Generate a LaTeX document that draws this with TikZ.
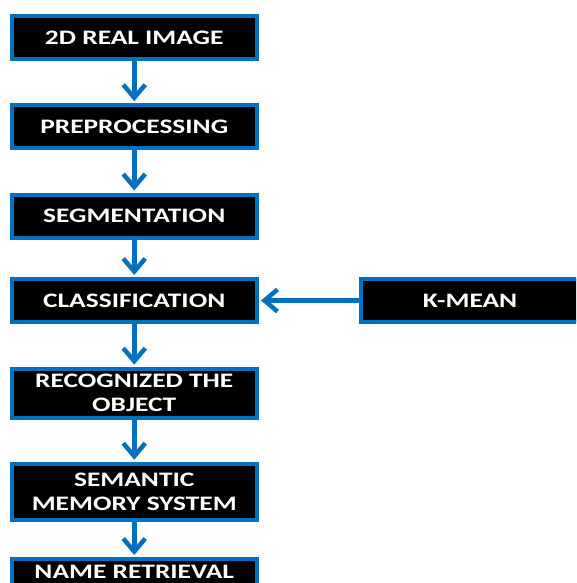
\documentclass[tikz,border=0pt]{standalone}
\usepackage{fontspec}
\newfontfamily\boxfont{Carlito}[FakeStretch=1.33]
\usetikzlibrary{arrows.meta}
\definecolor{flowblue}{HTML}{0070C0}
\begin{document}
\begin{tikzpicture}[x=1pt,y=-1pt,
  box/.style={draw=flowblue, line width=4pt, fill=black, text=white,
    font={\boxfont\bfseries\fontsize{20.6}{24}\selectfont},
    minimum width=245.5pt, minimum height=43pt, inner sep=0pt, align=center},
  flow/.style={draw=flowblue, line width=4.5pt,
    -{Straight Barb[length=13pt,width=22pt]}, shorten >=2pt}]
\useasboundingbox (0,0) rectangle (576,583);
\clip (0,0) rectangle (576,583);
\node[box] (b1) at (134.25,37.5) {2D REAL IMAGE};
\node[box] (b2) at (134.25,126.7) {PREPROCESSING};
\node[box] (b3) at (134.25,216) {SEGMENTATION};
\node[box] (b4) at (134.25,300.5) {CLASSIFICATION};
\node[box, minimum height=49.3pt] (b5) at (134.25,393.3) {RECOGNIZED THE\\OBJECT};
\node[box, minimum height=56pt] (b6) at (134.25,491.7) {SEMANTIC\\MEMORY SYSTEM};
\node[box, anchor=north, minimum height=0pt, inner ysep=5pt, text height=14.3pt, text depth=20pt] (b7) at (134.25,557) {NAME RETRIEVAL};
\node[box, minimum width=218pt] (km) at (470,300.5) {K-MEAN};
\draw[flow] (b1) -- (b2);
\draw[flow] (b2) -- (b3);
\draw[flow] (b3) -- (b4);
\draw[flow] (b4) -- (b5);
\draw[flow] (b5) -- (b6);
\draw[flow] (b6) -- (b7);
\draw[flow] (km) -- (b4);
\end{tikzpicture}
\end{document}
